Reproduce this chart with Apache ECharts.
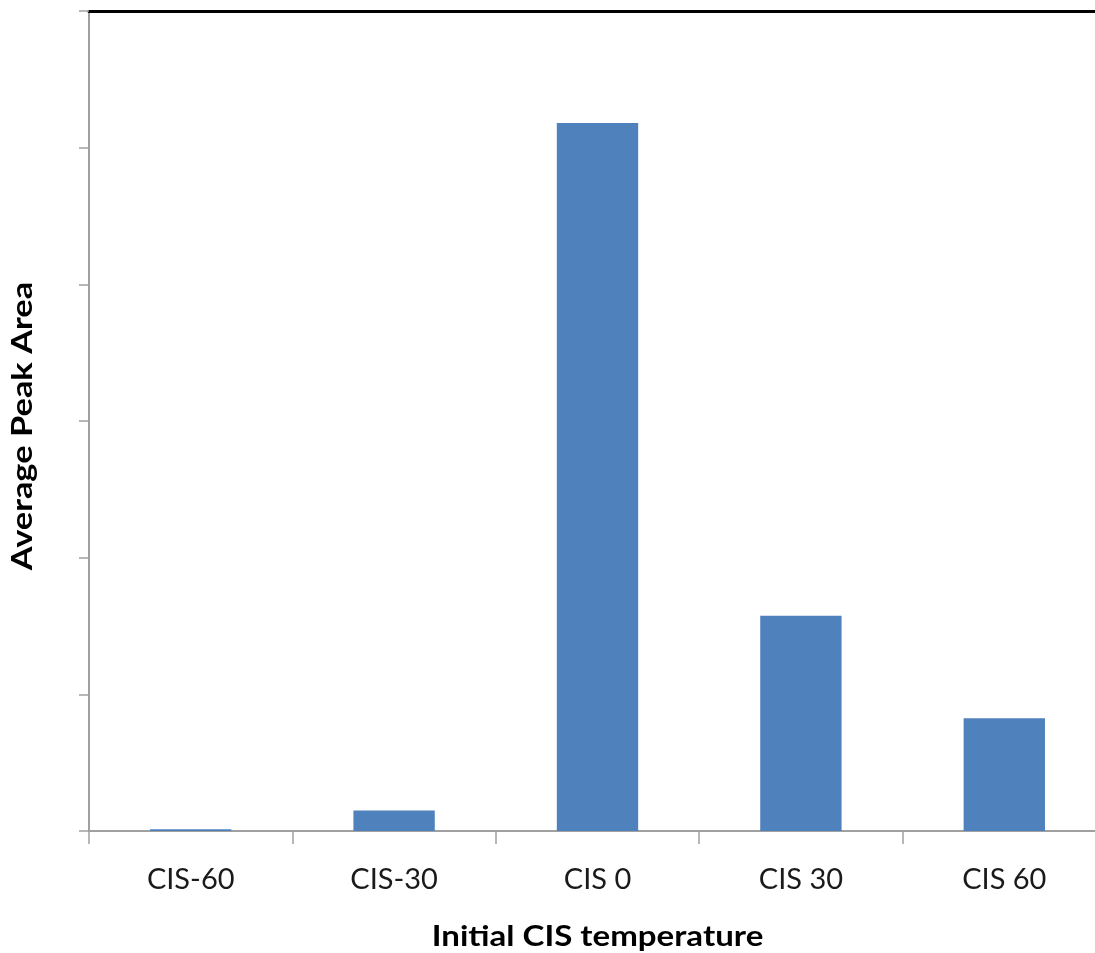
<!DOCTYPE html>
<html>
<head>
<meta charset="utf-8">
<script src="https://cdn.jsdelivr.net/npm/echarts@6/dist/echarts.min.js"></script>
<style>
html,body{margin:0;padding:0;background:#fff;overflow:hidden;}
#chart{width:1106px;height:953px;}
</style>
</head>
<body>
<div id="chart"></div>
<script>
const categories = ['CIS-60', 'CIS-30', 'CIS 0', 'CIS 30', 'CIS 60'];
const peakArea = [0.012, 0.15, 5.18, 1.575, 0.825];
const xTitle = 'Initial CIS temperature';
const yTitle = 'Average Peak Area';

const chart = echarts.init(document.getElementById('chart'), null, {renderer: 'canvas'});
const font = 'Lato, "Open Sans", sans-serif';
chart.setOption({
  animation: false,
  backgroundColor: '#ffffff',
  grid: {left: 89, top: 11, right: 0, bottom: 122, containLabel: false},
  xAxis: [{
    type: 'category',
    data: categories,
    position: 'bottom',
    boundaryGap: true,
    axisLine: {show: true, onZero: false, lineStyle: {color: '#a0a0a0', width: 2}},
    axisTick: {show: true, length: 13, lineStyle: {color: '#a0a0a0', width: 1.5}},
    axisLabel: {color: '#1a1a1a', fontSize: 29, fontFamily: font, margin: 34}
  }, {
    type: 'category',
    data: categories,
    position: 'top',
    axisLine: {show: true, onZero: false, lineStyle: {color: '#000', width: 3}},
    axisTick: {show: false},
    axisLabel: {show: false}
  }],
  yAxis: {
    type: 'value',
    min: 0, max: 6, interval: 1,
    axisLine: {show: true, lineStyle: {color: '#a0a0a0', width: 2}},
    axisTick: {show: true, length: 10, lineStyle: {color: '#a0a0a0', width: 1.5}},
    axisLabel: {show: false},
    splitLine: {show: false}
  },
  graphic: [{
    type: 'text',
    x: 597.5, y: 937,
    scaleX: 1.18,
    style: {
      text: xTitle, fill: '#000', fontSize: 28, fontWeight: 'bold', fontFamily: font,
      align: 'center', verticalAlign: 'middle', textAlign: 'center', textVerticalAlign: 'middle'
    }
  }, {
    type: 'text',
    x: 23, y: 426,
    rotation: Math.PI / 2,
    scaleX: 1.23,
    style: {
      text: yTitle, fill: '#000', fontSize: 28, fontWeight: 'bold', fontFamily: font,
      align: 'center', verticalAlign: 'middle', textAlign: 'center', textVerticalAlign: 'middle'
    }
  }],
  series: [{
    type: 'bar',
    data: peakArea,
    xAxisIndex: 0,
    barWidth: '40%',
    itemStyle: {color: '#4F81BD'}
  }]
});
</script>
</body>
</html>
